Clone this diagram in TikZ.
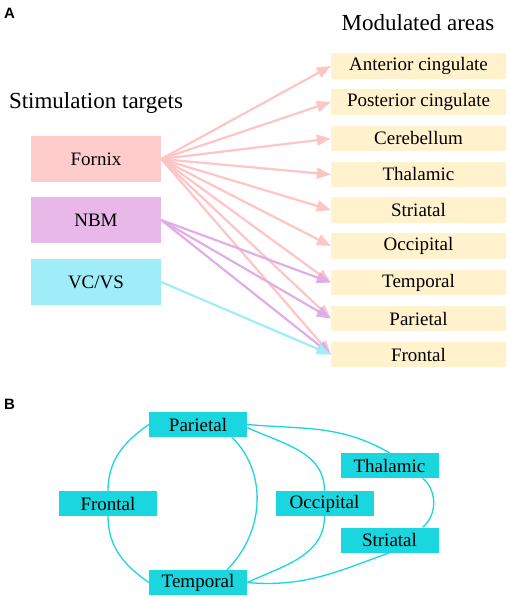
\documentclass[tikz,border=0pt]{standalone}
\usepackage{fontspec}
\setmainfont{Liberation Serif}
\newfontfamily\panelfont{Liberation Sans}
\usetikzlibrary{arrows.meta}

\definecolor{fornixcol}{HTML}{FFCCCC}
\definecolor{fornixline}{HTML}{FFC4C4}
\definecolor{nbmcol}{HTML}{E8B8E8}
\definecolor{nbmline}{HTML}{E0AEE6}
\definecolor{vccol}{HTML}{A0ECF8}
\definecolor{vcline}{HTML}{A0ECF8}
\definecolor{areacol}{HTML}{FFF2CC}
\definecolor{netcol}{HTML}{1AD6DE}

\begin{document}
\begin{tikzpicture}[x=1pt,y=1pt,
  font=\fontsize{19}{22}\selectfont,
  target/.style={minimum width=130pt,minimum height=46pt,inner sep=0pt},
  area/.style={fill=areacol,minimum width=175pt,minimum height=25.5pt,inner sep=0pt},
  heading/.style={font=\fontsize{23}{26}\selectfont,anchor=base},
  panel/.style={font=\panelfont\bfseries\fontsize{15}{17}\selectfont,anchor=base west,inner sep=0pt},
  proj/.style={line width=2.2pt,-{Triangle[length=14pt,width=11pt]}},
  netbox/.style={fill=netcol,minimum width=98pt,minimum height=25pt,inner sep=0pt},
  link/.style={draw=netcol,line width=1.3pt}]

\useasboundingbox (0,0) rectangle (510,-599);

% panel A
\node[panel] (labA) at (4,-18.5) {A};
\node[heading] (hstim) at (96,-109) {Stimulation targets};
\node[heading] (hmod) at (418,-31) {Modulated areas};

\node[target,fill=fornixcol] (fornix) at (96,-159) {Fornix};
\node[target,fill=nbmcol] (nbm) at (96,-220) {NBM};
\node[target,fill=vccol] (vcvs) at (96,-282) {VC/VS};

\node[area] (ant) at (418.5,-66) {Anterior cingulate};
\node[area] (post) at (418.5,-102) {Posterior cingulate};
\node[area] (cer) at (418.5,-138.5) {Cerebellum};
\node[area] (thal) at (418.5,-174.5) {Thalamic};
\node[area] (stri) at (418.5,-210) {Striatal};
\node[area] (occi) at (418.5,-246) {Occipital};
\node[area] (temp) at (418.5,-282.5) {Temporal};
\node[area] (pari) at (418.5,-318.5) {Parietal};
\node[area] (fron) at (418.5,-354.5) {Frontal};

\foreach \t in {ant,post,cer,thal,stri,occi,temp,pari,fron}
  \draw[proj,fornixline] (fornix.east) -- (\t.west);
\foreach \t in {temp,pari,fron}
  \draw[proj,nbmline] (nbm.east) -- (\t.west);
\draw[proj,vcline] (vcvs.east) -- (fron.west);

% panel B
\node[panel] (labB) at (4,-409) {B};

\node[netbox] (par) at (198,-424.5) {Parietal};
\node[netbox] (fro) at (108,-503.5) {Frontal};
\node[netbox] (occ) at (324.5,-503.5) {Occipital};
\node[netbox] (tha) at (389.5,-465.5) {Thalamic};
\node[netbox] (str) at (389.5,-540) {Striatal};
\node[netbox] (tem) at (198,-582.5) {Temporal};

\draw[link] (par.west) to[out=215,in=90] (fro.north);
\draw[link] (fro.south) to[out=-90,in=145] (tem.west);
\draw[link] ([xshift=34pt]par.south) to[out=-45,in=45] ([xshift=29pt]tem.north);
\draw[link] ([yshift=-3pt]par.east) to[out=-25,in=90] (occ.north);
\draw[link] (occ.south) to[out=-90,in=25] (tem.east);
\draw[link] (par.east) to[out=-5,in=150] (tha.north);
\draw[link] ([xshift=-16pt]tha.south east) to[out=-40,in=40] ([xshift=-16pt]str.north east);
\draw[link] (str.south) to[out=200,in=-5] (tem.east);

\end{tikzpicture}
\end{document}
